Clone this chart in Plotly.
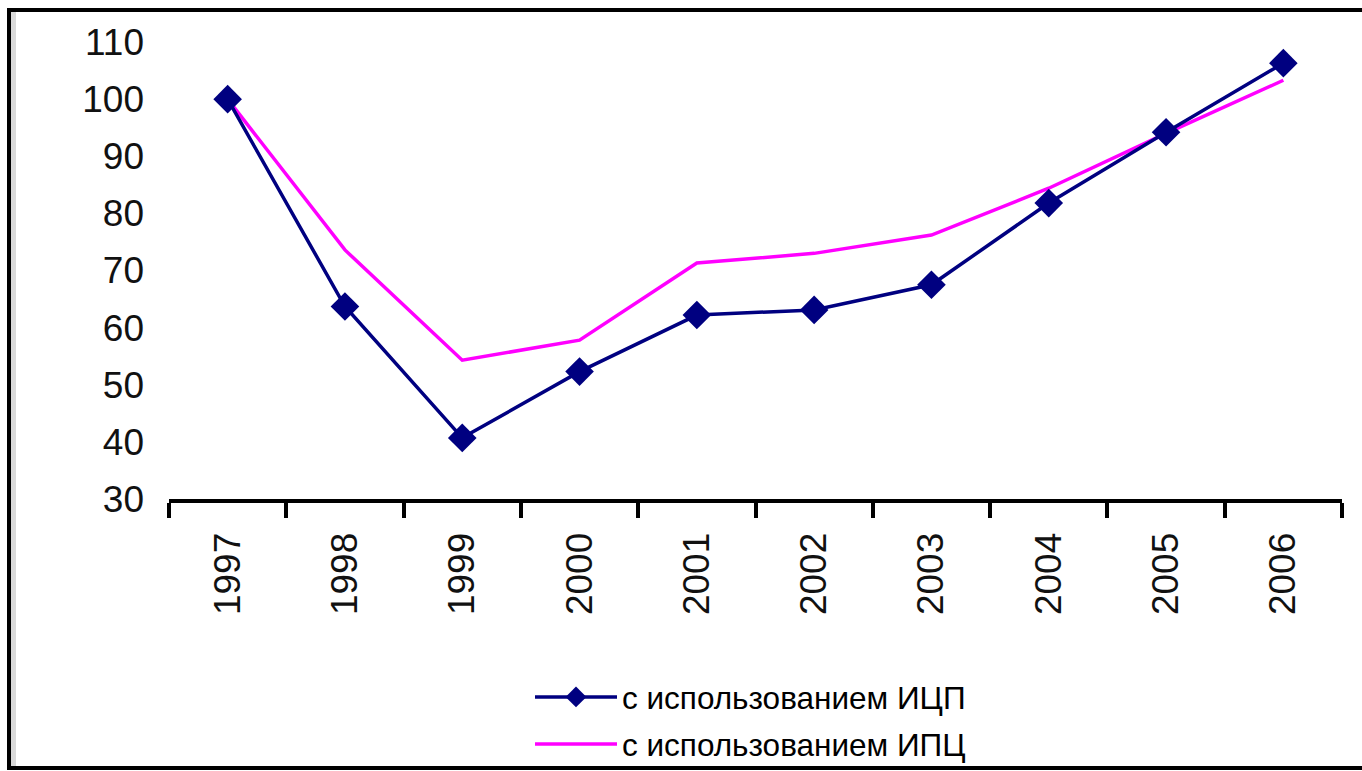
import plotly.graph_objects as go

years = ["1997", "1998", "1999", "2000", "2001", "2002", "2003", "2004", "2005", "2006"]
icp_values = [100, 63.7, 40.7, 52.3, 62.2, 63.1, 67.5, 81.8, 94.2, 106.3]
ipc_values = [100, 73.6, 54.3, 57.8, 71.3, 73.0, 76.2, 84.4, 94.0, 103.3]
y_ticks = [30, 40, 50, 60, 70, 80, 90, 100, 110]
name_icp = "с использованием ИЦП"
name_ipc = "с использованием ИПЦ"

W, H = 1362, 771
L, R, T, B = 169, 20, 42, 272
pw, ph = W - L - R, H - T - B

def px(x):
    return (x - L) / pw

def py(y):
    return (H - B - y) / ph

FONT = "Liberation Sans, Arial, sans-serif"

fig = go.Figure()
fig.add_trace(go.Scatter(
    x=years, y=ipc_values, name=name_ipc, mode="lines",
    line=dict(color="#FF00FF", width=3.5), legend="legend2",
))
fig.add_trace(go.Scatter(
    x=years, y=icp_values, name=name_icp, mode="lines+markers",
    line=dict(color="#000080", width=3.5),
    marker=dict(symbol="diamond", size=22, color="#000080"),
    legend="legend",
))

leg_common = dict(
    font=dict(family=FONT, size=31.5, color="#000"),
    bgcolor="rgba(0,0,0,0)", itemwidth=82, xanchor="left", yanchor="middle",
)

fig.update_layout(
    width=W, height=H,
    margin=dict(l=L, r=R, t=T, b=B, autoexpand=False),
    paper_bgcolor="white", plot_bgcolor="white",
    showlegend=True,
    legend=dict(x=px(530), y=py(697), **leg_common),
    legend2=dict(x=px(530), y=py(744), **leg_common),
    xaxis=dict(
        type="category", tickson="boundaries", ticks="outside", ticklen=15,
        tickwidth=4, tickcolor="#000", showline=True, linecolor="#000", linewidth=4,
        showgrid=False, tickangle=-90, ticklabelstandoff=15, automargin=False,
        tickfont=dict(family=FONT, size=37, color="#111"),
        range=[-0.5, 9.5], zeroline=False,
    ),
    yaxis=dict(
        range=[30, 110], tickvals=y_ticks, showline=False, showgrid=False,
        zeroline=False, ticks="", ticklabelstandoff=24, automargin=False,
        tickfont=dict(family=FONT, size=37, color="#111"),
    ),
    shapes=[
        dict(type="rect", xref="paper", yref="paper",
             x0=px(11), x1=px(16), y0=py(766), y1=py(12),
             fillcolor="#d9d9d9", line=dict(width=0), layer="below"),
        dict(type="rect", xref="paper", yref="paper",
             x0=px(9), x1=px(1375), y0=py(768), y1=py(10),
             line=dict(color="#000", width=4), fillcolor="rgba(0,0,0,0)"),
    ],
)

fig.write_html("out.html", config={"displayModeBar": False},
               post_script="document.body.style.margin='0';")
